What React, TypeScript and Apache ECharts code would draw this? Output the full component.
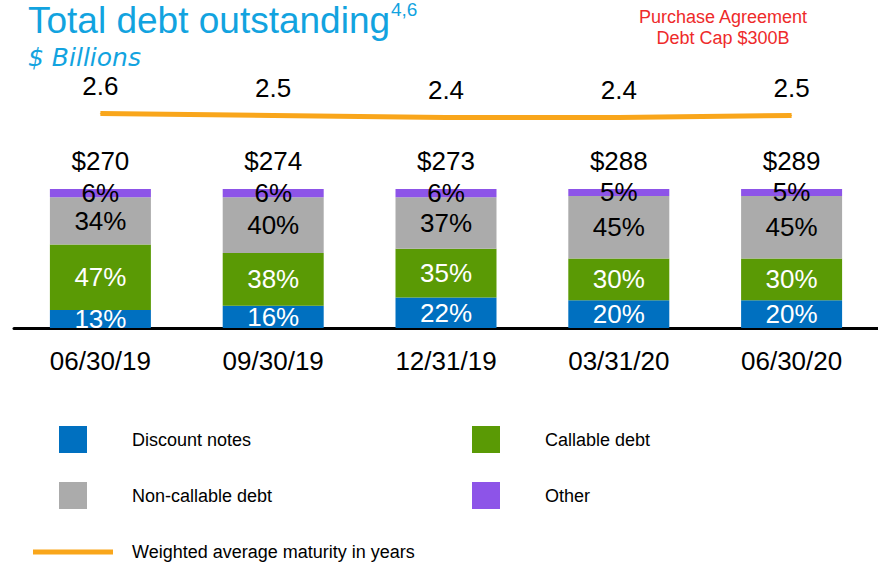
import React, { useEffect, useRef } from 'react';
import * as echarts from 'echarts';

const categories = ['06/30/19', '09/30/19', '12/31/19', '03/31/20', '06/30/20'];
const discountNotes = [13, 16, 22, 20, 20];
const callableDebt = [47, 38, 35, 30, 30];
const nonCallableDebt = [34, 40, 37, 45, 45];
const other = [6, 6, 6, 5, 5];
const totals = [270, 274, 273, 288, 289];
const maturity = [2.6, 2.5, 2.4, 2.4, 2.5];

const FONT = '"Liberation Sans", Arial, sans-serif';
const C_BLUE = '#0070C0';
const C_GREEN = '#5A9A05';
const C_GRAY = '#ABABAB';
const C_PURPLE = '#8D54E8';
const C_ORANGE = '#F9A61B';
const C_CYAN = '#12A3DF';
const C_RED = '#EE2A2A';

function barSeries(name: string, data: number[], color: string, labelColor: string) {
  return {
    name,
    type: 'bar',
    stack: 'debt',
    xAxisIndex: 0,
    yAxisIndex: 0,
    barWidth: 101,
    data,
    itemStyle: { color },
    label: {
      show: true,
      position: 'inside',
      formatter: '{c}%',
      fontSize: 26,
      fontFamily: FONT,
      color: labelColor,
    },
  };
}

export default function App() {
  const ref = useRef<HTMLDivElement>(null);
  useEffect(() => {
    if (!ref.current) return;
    const chart = echarts.init(ref.current, null, { renderer: 'svg' });
    const legendText = { fontSize: 18, fontFamily: FONT, color: '#000', padding: [0, 0, 0, 40] };
    chart.setOption({
      animation: false,
      backgroundColor: '#fff',
      grid: [
        { left: 14, right: 0, top: 189, bottom: 235 },
        { left: 14, right: 0, top: 106, height: 19 },
      ],
      xAxis: [
        {
          type: 'category',
          gridIndex: 0,
          data: categories,
          axisLine: { lineStyle: { color: '#000', width: 3 } },
          axisTick: { show: false },
          axisLabel: { fontSize: 26, fontFamily: FONT, color: '#000', margin: 20 },
        },
        { type: 'category', gridIndex: 1, data: categories, show: false },
      ],
      yAxis: [
        { type: 'value', gridIndex: 0, min: 0, max: 100, show: false },
        { type: 'value', gridIndex: 1, min: 2, max: 3, show: false },
      ],
      legend: [
        {
          left: 59, top: 426, padding: 0, orient: 'vertical', itemWidth: 28, itemHeight: 27, itemGap: 29,
          icon: 'rect', selectedMode: false, textStyle: legendText,
          data: ['Discount notes', 'Non-callable debt'],
        },
        {
          left: 472, top: 426, padding: 0, orient: 'vertical', itemWidth: 28, itemHeight: 27, itemGap: 29,
          icon: 'rect', selectedMode: false, textStyle: legendText,
          data: ['Callable debt', 'Other'],
        },
        {
          left: 33, top: 543, padding: 0, itemWidth: 80, itemHeight: 5,
          icon: 'rect', selectedMode: false,
          textStyle: { ...legendText, padding: [0, 0, 0, 14] },
          data: ['Weighted average maturity in years'],
        },
      ],
      graphic: [
        {
          type: 'text', x: 28, y: 20,
          style: { text: 'Total debt outstanding', fill: C_CYAN, font: `37px ${FONT}`, textVerticalAlign: 'middle' },
        },
        {
          type: 'text', x: 391, y: 9,
          style: { text: '4,6', fill: C_CYAN, font: `19px ${FONT}`, textVerticalAlign: 'middle' },
        },
        {
          type: 'text', x: 28, y: 57,
          style: { text: '$ Billions', fill: C_CYAN, font: `italic 25px "DejaVu Sans", sans-serif`, textVerticalAlign: 'middle' },
        },
        {
          type: 'text', x: 723, y: 17,
          style: { text: 'Purchase Agreement', fill: C_RED, font: `18px ${FONT}`, textAlign: 'center', textVerticalAlign: 'middle' },
        },
        {
          type: 'text', x: 723, y: 38,
          style: { text: 'Debt Cap $300B', fill: C_RED, font: `18px ${FONT}`, textAlign: 'center', textVerticalAlign: 'middle' },
        },
      ],
      series: [
        barSeries('Discount notes', discountNotes, C_BLUE, '#fff'),
        barSeries('Callable debt', callableDebt, C_GREEN, '#fff'),
        barSeries('Non-callable debt', nonCallableDebt, C_GRAY, '#000'),
        barSeries('Other', other, C_PURPLE, '#000'),
        {
          name: 'Total',
          type: 'bar',
          stack: 'debt',
          xAxisIndex: 0,
          yAxisIndex: 0,
          barWidth: 101,
          data: totals.map(() => 0),
          itemStyle: { color: 'transparent' },
          label: {
            show: true,
            position: 'top',
            distance: 15,
            fontSize: 26,
            fontFamily: FONT,
            color: '#000',
            formatter: (p: any) => '$' + totals[p.dataIndex],
          },
        },
        {
          name: 'Weighted average maturity in years',
          type: 'line',
          xAxisIndex: 1,
          yAxisIndex: 1,
          data: maturity,
          symbol: 'circle',
          symbolSize: 1,
          itemStyle: { color: C_ORANGE },
          lineStyle: { color: C_ORANGE, width: 5 },
          label: {
            show: true,
            position: 'top',
            distance: 14,
            fontSize: 26,
            fontFamily: FONT,
            color: '#000',
            formatter: (p: any) => Number(p.value).toFixed(1),
          },
        },
      ],
    });
    return () => chart.dispose();
  }, []);
  return (
    <div
      ref={ref}
      style={{ position: 'fixed', left: 0, top: 0, width: 878, height: 563, background: '#fff' }}
    />
  );
}
